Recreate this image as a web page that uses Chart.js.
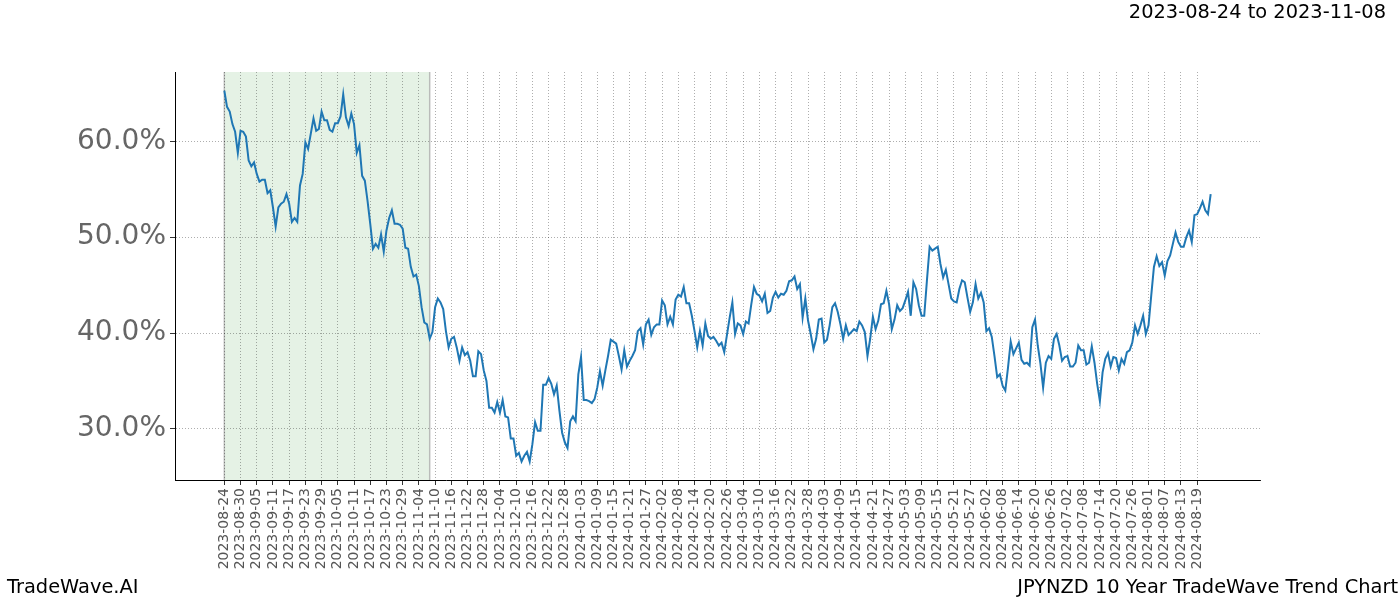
<!DOCTYPE html>
<html lang="en">
<head>
    <meta charset="UTF-8">
    <title>JPYNZD 10 Year TradeWave Trend Chart</title>
    <script src="https://cdn.jsdelivr.net/npm/chart.js"></script>
    <style>
        body { margin: 0; background: #fff; font-family: 'DejaVu Sans', sans-serif; }
        .wrap { position: relative; width: 1400px; height: 600px; }
        .txt { position: absolute; color: #000; white-space: nowrap; font-size: 19.4px; }
        #range { top: 0px; right: 14px; }
        #brand { left: 7px; bottom: 2px; }
        #title { right: 2px; bottom: 2px; }
    </style>
</head>
<body>
    <div class="wrap">
        <canvas id="trendChart" width="1400" height="600"></canvas>
        <div class="txt" id="range">2023-08-24 to 2023-11-08</div>
        <div class="txt" id="brand">TradeWave.AI</div>
        <div class="txt" id="title">JPYNZD 10 Year TradeWave Trend Chart</div>
    </div>

    <script>
        // trend values (%), one per day starting 2023-08-24
        const values = [
            65.3, 63.6, 63.1, 61.8, 61.0, 58.8, 61.1, 61.0, 60.5, 58.0,
            57.4, 57.8, 56.6, 55.8, 56.0, 56.0, 54.6, 54.9, 53.1, 51.1,
            53.1, 53.5, 53.7, 54.5, 53.5, 51.6, 52.0, 51.6, 55.4, 56.6,
            59.9, 59.2, 60.8, 62.4, 61.1, 61.3, 63.1, 62.2, 62.2, 61.2,
            61.0, 61.9, 61.9, 62.6, 64.9, 62.5, 61.6, 62.9, 61.8, 58.8,
            59.6, 56.4, 55.9, 53.8, 51.4, 48.8, 49.3, 48.9, 50.3, 48.5,
            50.7, 52.0, 52.8, 51.4, 51.4, 51.3, 50.9, 48.9, 48.8, 46.9,
            45.9, 46.1, 44.9, 42.7, 41.1, 40.9, 39.4, 40.1, 42.7, 43.6,
            43.2, 42.5, 40.2, 38.5, 39.4, 39.6, 38.5, 37.1, 38.5, 37.7,
            38.0, 37.1, 35.5, 35.5, 38.1, 37.8, 36.1, 35.0, 32.2, 32.2,
            31.7, 32.8, 31.7, 33.0, 31.3, 31.2, 29.0, 29.0, 27.2, 27.5,
            26.6, 27.2, 27.6, 26.6, 28.4, 30.7, 29.8, 29.8, 34.6, 34.6,
            35.3, 34.7, 33.6, 34.5, 31.9, 29.6, 28.6, 28.0, 30.8, 31.3,
            30.8, 35.7, 37.5, 33.0, 33.0, 32.9, 32.7, 33.1, 34.3, 36.0,
            34.5, 36.1, 37.6, 39.3, 39.1, 38.9, 37.6, 36.2, 38.2, 36.5,
            37.1, 37.6, 38.2, 40.2, 40.5, 38.8, 40.9, 41.4, 39.8, 40.6,
            40.9, 40.9, 43.4, 42.9, 40.9, 41.7, 40.9, 43.5, 44.0, 43.8,
            44.8, 43.1, 43.1, 41.8, 40.2, 38.5, 40.2, 38.7, 41.0, 39.7,
            39.4, 39.6, 39.2, 38.7, 39.0, 38.0, 39.8, 41.6, 43.2, 39.9,
            41.0, 40.8, 39.9, 41.2, 41.0, 43.0, 44.8, 44.1, 43.9, 43.3,
            44.1, 42.1, 42.3, 43.7, 44.3, 43.7, 44.1, 44.0, 44.4, 45.4,
            45.5, 45.9, 44.6, 45.1, 41.6, 43.6, 41.3, 39.9, 38.3, 39.4,
            41.4, 41.5, 39.0, 39.3, 40.8, 42.7, 43.1, 42.2, 40.9, 39.4,
            40.8, 39.8, 40.1, 40.4, 40.2, 41.2, 40.8, 40.1, 37.6, 39.4,
            41.7, 40.4, 41.3, 43.0, 43.1, 44.4, 43.0, 40.4, 41.4, 42.9,
            42.3, 42.6, 43.4, 44.3, 41.8, 45.3, 44.6, 42.9, 41.8, 41.8,
            45.5, 49.0, 48.6, 48.8, 49.0, 47.2, 45.8, 46.6, 45.1, 43.6,
            43.3, 43.2, 44.6, 45.5, 45.3, 43.7, 42.2, 43.2, 45.1, 43.6,
            44.2, 43.2, 40.2, 40.5, 39.6, 37.6, 35.4, 35.7, 34.5, 34.0,
            36.4, 39.1, 37.8, 38.4, 39.0, 37.2, 36.8, 36.9, 36.6, 40.6,
            41.4, 38.7, 36.8, 34.3, 36.9, 37.6, 37.3, 39.4, 39.9, 38.7,
            37.1, 37.5, 37.6, 36.5, 36.5, 36.9, 38.7, 38.2, 38.2, 36.7,
            36.9, 38.6, 36.9, 34.7, 32.9, 35.9, 37.3, 37.9, 36.5, 37.5,
            37.4, 36.1, 37.3, 36.8, 38.0, 38.2, 39.0, 40.8, 39.9, 40.8,
            41.8, 39.9, 40.8, 43.9, 46.9, 48.0, 47.0, 47.4, 46.0, 47.5,
            48.1, 49.3, 50.5, 49.5, 49.0, 49.0, 50.0, 50.7, 49.5, 52.3,
            52.4, 53.0, 53.7, 52.8, 52.4, 54.5
        ];

        // x-axis labels, one every 6 points
        const tickLabels = [
            '2023-08-24', '2023-08-30', '2023-09-05', '2023-09-11', '2023-09-17', '2023-09-23',
            '2023-09-29', '2023-10-05', '2023-10-11', '2023-10-17', '2023-10-23', '2023-10-29',
            '2023-11-04', '2023-11-10', '2023-11-16', '2023-11-22', '2023-11-28', '2023-12-04',
            '2023-12-10', '2023-12-16', '2023-12-22', '2023-12-28', '2024-01-03', '2024-01-09',
            '2024-01-15', '2024-01-21', '2024-01-27', '2024-02-02', '2024-02-08', '2024-02-14',
            '2024-02-20', '2024-02-26', '2024-03-04', '2024-03-10', '2024-03-16', '2024-03-22',
            '2024-03-28', '2024-04-03', '2024-04-09', '2024-04-15', '2024-04-21', '2024-04-27',
            '2024-05-03', '2024-05-09', '2024-05-15', '2024-05-21', '2024-05-27', '2024-06-02',
            '2024-06-08', '2024-06-14', '2024-06-20', '2024-06-26', '2024-07-02', '2024-07-08',
            '2024-07-14', '2024-07-20', '2024-07-26', '2024-08-01', '2024-08-07', '2024-08-13',
            '2024-08-19'
        ];
        const tickStep = 6;
        const yTicks = [30, 40, 50, 60];

        // shaded window: 2023-08-24 .. 2023-11-08
        const highlight = [0, 76];

        const spanPlugin = {
            id: 'span',
            beforeDraw(chart) {
                const {ctx, chartArea, scales} = chart;
                const x0 = scales.x.getPixelForValue(highlight[0]);
                const x1 = scales.x.getPixelForValue(highlight[1]);
                ctx.save();
                ctx.fillStyle = 'rgba(0, 128, 0, 0.1)';
                ctx.fillRect(x0, chartArea.top, x1 - x0, chartArea.bottom - chartArea.top);
                ctx.strokeStyle = 'rgba(150, 150, 150, 0.6)';
                ctx.lineWidth = 1.5;
                ctx.beginPath();
                ctx.moveTo(x0, chartArea.top); ctx.lineTo(x0, chartArea.bottom);
                ctx.moveTo(x1, chartArea.top); ctx.lineTo(x1, chartArea.bottom);
                ctx.stroke();
                ctx.restore();
            }
        };

        const n = values.length - 1;
        const pad = n * 0.05;
        const yMin = Math.min(...values), yMax = Math.max(...values);
        const yPad = (yMax - yMin) * 0.05;

        const gridStyle = {
            color: 'rgba(0, 0, 0, 0.4)',
            lineWidth: 0.8,
            tickColor: '#000',
            tickLength: 5,
            tickBorderDash: []
        };

        new Chart(document.getElementById('trendChart'), {
            type: 'line',
            data: {
                datasets: [{
                    data: values.map((v, i) => ({x: i, y: v})),
                    borderColor: '#1f77b4',
                    borderWidth: 2,
                    pointRadius: 0,
                    tension: 0,
                    fill: false
                }]
            },
            options: {
                responsive: false,
                animation: false,
                devicePixelRatio: 1,
                layout: { padding: { left: 0, top: 72, right: 140, bottom: 0 } },
                plugins: { legend: { display: false }, tooltip: { enabled: false } },
                scales: {
                    x: {
                        type: 'linear',
                        min: -pad,
                        max: n + pad,
                        afterBuildTicks: axis => {
                            axis.ticks = tickLabels.map((_, i) => ({ value: i * tickStep }));
                        },
                        afterFit: axis => { axis.height = 120; },
                        ticks: {
                            autoSkip: false,
                            minRotation: 90,
                            maxRotation: 90,
                            padding: 3,
                            color: '#555',
                            font: { family: 'DejaVu Sans', size: 14 },
                            callback: v => tickLabels[Math.round(v / tickStep)]
                        },
                        grid: gridStyle,
                        border: { display: true, color: '#000', width: 1, dash: [1, 2] }
                    },
                    y: {
                        min: yMin - yPad,
                        max: yMax + yPad,
                        afterBuildTicks: axis => {
                            axis.ticks = yTicks.map(v => ({ value: v }));
                        },
                        afterFit: axis => { axis.width = 175; },
                        ticks: {
                            padding: 4,
                            color: '#666',
                            font: { family: 'DejaVu Sans', size: 28 },
                            callback: v => v.toFixed(1) + '%'
                        },
                        grid: gridStyle,
                        border: { display: true, color: '#000', width: 1, dash: [1, 2] }
                    }
                }
            },
            plugins: [spanPlugin]
        });
    </script>
</body>
</html>
